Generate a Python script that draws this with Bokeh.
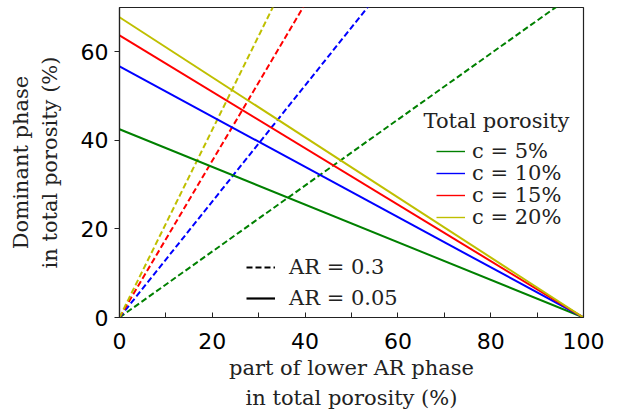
from bokeh.plotting import figure
from bokeh.models import Legend, LegendItem, FixedTicker, Range1d, Label
from bokeh.embed import file_html
from bokeh.resources import INLINE

# ---- data ----
x_ends = [0, 100]
porosity_labels = ["c = 5%", "c = 10%", "c = 15%", "c = 20%"]
colors = ["#008000", "#0000ff", "#ff0000", "#bfbf00"]
# AR = 0.05 (solid): value at x=0 and at x=100
solid_start = [42.5, 56.7, 63.7, 67.8]
solid_end = [0.0, 0.0, 0.0, 0.0]
# AR = 0.3 (dashed): value at x=0 and at x=100
dashed_start = [0.0, 0.0, 0.0, 0.0]
dashed_end = [74.5, 131.0, 177.0, 212.0]
x_ticks = [0, 20, 40, 60, 80, 100]
x_minor = [10, 30, 50, 70, 90]
y_ticks = [0, 20, 40, 60]
ar_labels = ["AR = 0.3", "AR = 0.05"]
legend_title = "Total porosity"
x_title = "part of lower AR phase\nin total porosity (%)"
y_title = "Dominant phase\nin total porosity (%)"

SERIF = "DejaVu Serif"
SANS = "DejaVu Sans"
NAN = float("nan")
INK = "#222222"

p = figure(frame_width=464, frame_height=310, output_backend="svg", toolbar_location=None,
           x_range=Range1d(0, 100), y_range=Range1d(0, 70),
           min_border_left=119, min_border_right=31, min_border_top=7, min_border_bottom=90)
p.grid.visible = False
p.outline_line_color = INK
p.outline_line_width = 1.2
p.background_fill_color = "white"
p.border_fill_color = "white"

for i in range(4):
    p.line(x_ends, [dashed_start[i], dashed_end[i]], line_color=colors[i], line_width=2,
           line_dash="6 3")
for i in range(4):
    p.line(x_ends, [solid_start[i], solid_end[i]], line_color=colors[i], line_width=2)

# axes
p.xaxis.ticker = FixedTicker(ticks=x_ticks, minor_ticks=x_minor)
p.yaxis.ticker = FixedTicker(ticks=y_ticks)
for ax in (p.xaxis, p.yaxis):
    ax.axis_line_color = INK
    ax.axis_line_width = 1.2
    ax.major_tick_line_color = INK
    ax.minor_tick_line_color = INK
    ax.major_label_text_font = SANS
    ax.major_label_text_font_size = "22px"
    ax.major_label_text_color = "black"
    ax.axis_label_text_font = SERIF
    ax.axis_label_text_font_size = "21px"
    ax.axis_label_text_font_style = "normal"
    ax.axis_label_text_color = INK

p.xaxis.major_tick_in = 5
p.xaxis.major_tick_out = 0
p.xaxis.minor_tick_in = 5
p.xaxis.minor_tick_out = 0
p.xaxis.major_label_standoff = 15
p.xaxis.axis_label_standoff = 4
p.xaxis.axis_label_text_line_height = 1.27
p.xaxis.axis_label = x_title

p.yaxis.major_tick_in = 0
p.yaxis.major_tick_out = 5
p.yaxis.minor_tick_line_color = None
p.yaxis.major_label_standoff = 6
p.yaxis.axis_label_standoff = 16
p.yaxis.axis_label_text_line_height = 1.2
p.yaxis.axis_label = y_title

# legend: porosity (title + one entry per legend for tight row spacing)
p.add_layout(Label(x=304, y=197, x_units="screen", y_units="screen", text=legend_title,
                   text_align="left", text_baseline="middle", text_font=SERIF,
                   text_font_size="21px", text_color=INK))
entry_y = [154, 132, 110, 88]
for i in range(4):
    r = p.line([NAN, NAN], [NAN, NAN], line_color=colors[i], line_width=1.4)
    lg = Legend(items=[LegendItem(label=porosity_labels[i], renderers=[r])],
                location=(317, entry_y[i]),
                label_text_font=SERIF, label_text_font_size="21px", label_text_color=INK,
                glyph_width=29, glyph_height=10, label_height=10,
                label_standoff=7, spacing=0, padding=0, margin=0,
                border_line_alpha=0, background_fill_alpha=0)
    p.add_layout(lg)

# legend: aspect ratio
r_d = p.line([NAN, NAN], [NAN, NAN], line_color="black", line_width=2, line_dash="6 3")
r_s = p.line([NAN, NAN], [NAN, NAN], line_color="black", line_width=2.2)
leg2 = Legend(items=[LegendItem(label=ar_labels[0], renderers=[r_d]),
                     LegendItem(label=ar_labels[1], renderers=[r_s])],
              location=(127, 7),
              label_text_font=SERIF, label_text_font_size="21px", label_text_color=INK,
              glyph_width=29, glyph_height=10, label_height=10,
              label_standoff=14, spacing=7, padding=0, margin=0,
              border_line_alpha=0, background_fill_alpha=0)
p.add_layout(leg2)

open("out.html", "w").write(file_html(p, INLINE))
